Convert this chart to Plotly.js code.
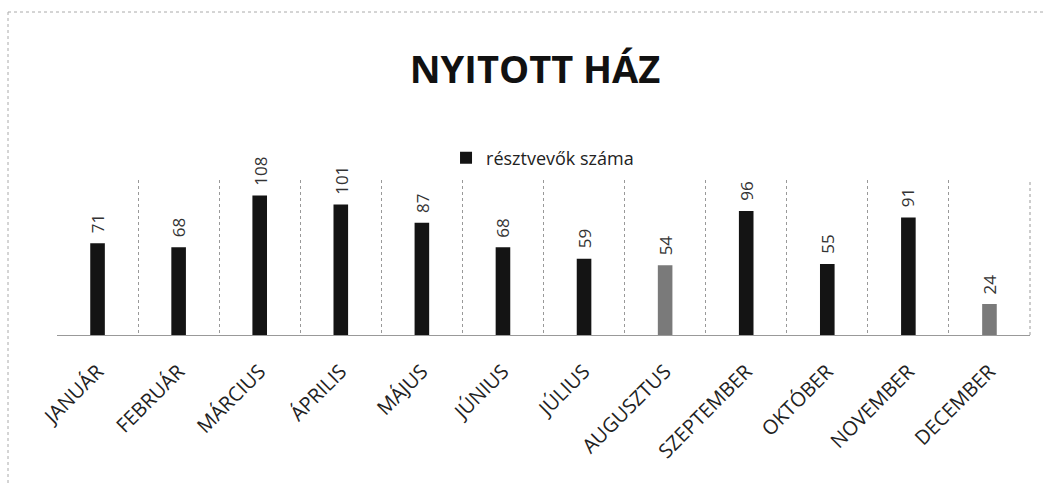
<!DOCTYPE html>
<html>
<head>
<meta charset="utf-8">
<script src="https://cdn.plot.ly/plotly-3.0.1.min.js"></script>
<style>
html,body{margin:0;padding:0;background:#fff;}
#chart{width:1045px;height:484px;}
</style>
</head>
<body>
<div id="chart"></div>
<script>
const months = ["JANUÁR","FEBRUÁR","MÁRCIUS","ÁPRILIS","MÁJUS","JÚNIUS","JÚLIUS","AUGUSZTUS","SZEPTEMBER","OKTÓBER","NOVEMBER","DECEMBER"];
const participants = [71,68,108,101,87,68,59,54,96,55,91,24];
const barColors = ["#141414","#141414","#141414","#141414","#141414","#141414","#141414","#7a7a7a","#141414","#141414","#141414","#7a7a7a"];
const seriesName = "résztvevők száma";
const chartTitle = "NYITOTT HÁZ";

const W = 1045, H = 484;
const mL = 57, mR = 15, mT = 180, mB = 149;
const pw = W - mL - mR, ph = H - mT - mB;
function px(x){ return (x - mL) / pw; }
function py(y){ return (H - mB - y) / ph; }

const trace = {
  type: "bar",
  x: months,
  y: participants,
  name: seriesName,
  marker: {color: barColors},
  width: 0.18,
  showlegend: true
};

const labelAnnotations = months.map((m, i) => ({
  x: m, y: participants[i], xref: "x", yref: "y",
  text: String(participants[i]),
  textangle: -90,
  showarrow: false,
  xanchor: "center", yanchor: "bottom",
  yshift: 8,
  font: {family: "Open Sans, sans-serif", size: 17, color: "#333"}
}));

const layout = {
  width: W, height: H,
  margin: {l: mL, r: mR, t: mT, b: mB},
  paper_bgcolor: "#fff",
  plot_bgcolor: "#fff",
  title: {
    text: "<b>" + chartTitle + "</b>",
    font: {family: "Open Sans, sans-serif", size: 38, color: "#111"},
    x: 0.512, xanchor: "center",
    y: 1 - 70/H, yanchor: "middle"
  },
  showlegend: true,
  legend: {
    orientation: "h",
    x: 0.499, xanchor: "center",
    y: py(158), yanchor: "middle",
    font: {family: "Open Sans, sans-serif", size: 18, color: "#222"},
    itemwidth: 30
  },
  xaxis: {
    tickangle: -45,
    tickson: "boundaries",
    showgrid: true,
    gridcolor: "#999",
    griddash: "dot",
    gridwidth: 1,
    ticks: "",
    ticklabelstandoff: 16,
    showline: true,
    linecolor: "#999",
    tickfont: {family: "Open Sans, sans-serif", size: 20, color: "#222"},
    fixedrange: true
  },
  yaxis: {
    range: [0, 120],
    showgrid: false,
    zeroline: false,
    showticklabels: false,
    showline: false,
    fixedrange: true
  },
  bargap: 0.8,
  annotations: labelAnnotations,
  shapes: [
    {type: "line", xref: "paper", yref: "paper", x0: px(8), x1: px(1045), y0: py(12), y1: py(12),
     line: {color: "#aaa", width: 1, dash: "dot"}},
    {type: "line", xref: "paper", yref: "paper", x0: px(8), x1: px(8), y0: py(12), y1: py(484),
     line: {color: "#aaa", width: 1, dash: "dot"}},
    {type: "line", xref: "paper", yref: "paper", x0: 1, x1: 1, y0: 0, y1: 1,
     line: {color: "#999", width: 1, dash: "dot"}}
  ]
};

Plotly.newPlot("chart", [trace], layout, {displayModeBar: false, staticPlot: true});
</script>
</body>
</html>
